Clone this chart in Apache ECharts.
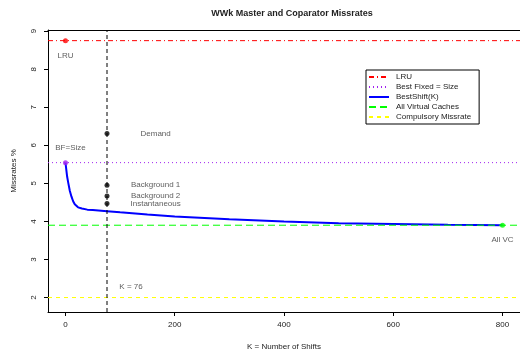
<!DOCTYPE html>
<html>
<head>
<meta charset="utf-8">
<script src="https://cdn.jsdelivr.net/npm/echarts@6/dist/echarts.min.js"></script>
<style>
html,body{margin:0;padding:0;background:#fff}
#chart{width:520px;height:356px}
</style>
</head>
<body>
<div id="chart"></div>
<script>
// BestShift(K) curve
const shiftK = [0, 1, 3, 5, 8, 11, 14, 17, 20, 23, 30, 40, 50, 76, 100, 150, 200, 300, 400, 500, 600, 700, 800]
const shiftRate = [5.545, 5.42, 5.18, 5.02, 4.8, 4.65, 4.53, 4.45, 4.4, 4.37, 4.34, 4.31, 4.3, 4.27, 4.24, 4.18, 4.13, 4.06, 4.0, 3.95, 3.93, 3.91, 3.9]
// reference levels
const lruRate = 8.75
const bestFixedRate = 5.545
const allVcRate = 3.9
const compulsoryRate = 2.0
const bestK = 76
// policies at K = 76
const policyNames = ['Demand', 'Background 1', 'Background 2', 'Instantaneous']
const policyRates = [6.31, 4.95, 4.67, 4.47]
const policyLabelX = 165
const xTicks = [0, 200, 400, 600, 800]
const yTicks = [2, 3, 4, 5, 6, 7, 8, 9]
const xMin = -32, xMax = 832, yMin = 1.62, yMax = 9.03

const font = 'Liberation Sans, Arial, sans-serif'
const chart = echarts.init(document.getElementById('chart'))

const hline = (name, v, color, type, width) => ({
  name: name,
  type: 'line',
  data: [[xMin, v], [xMax, v]],
  symbol: 'none',
  silent: true,
  lineStyle: { color: color, type: type, width: width || 1 },
  itemStyle: { color: color },
  z: 3
})

const dot = (x, y, color, label, pos, offset) => ({
  type: 'scatter',
  data: [[x, y]],
  symbolSize: 5,
  itemStyle: { color: color },
  label: {
    show: true, formatter: label, position: pos, offset: offset || [0, 0],
    color: '#333', fontSize: 8, fontFamily: font
  },
  z: 5
})

const option = {
  animation: false,
  title: {
    text: 'WWk Master and Coparator Missrates',
    left: 287, top: 4, textAlign: 'center',
    textStyle: { fontSize: 9, fontWeight: 'bold', color: '#222', fontFamily: font }
  },
  legend: {
    orient: 'vertical',
    left: 366, top: 70,
    data: ['LRU', 'Best Fixed = Size', 'BestShift(K)', 'All Virtual Caches', 'Compulsory Missrate'],
    borderColor: '#000', borderWidth: 1, borderRadius: 0,
    padding: [3, 8, 3, 2],
    itemWidth: 20, itemHeight: 8, itemGap: 2,
    itemStyle: { opacity: 0, borderWidth: 0 },
    textStyle: { fontSize: 8, color: '#222', fontFamily: font, padding: [0, 0, 0, 2] }
  },
  grid: { left: 48, right: 0, top: 30, bottom: 42 },
  xAxis: [{
    type: 'value', min: xMin, max: xMax,
    name: 'K = Number of Shifts', nameLocation: 'middle', nameGap: 31,
    nameTextStyle: { fontSize: 8, color: '#222', fontFamily: font },
    axisLine: { show: true, onZero: false, lineStyle: { color: '#000' } },
    axisTick: { show: true, length: 4, lineStyle: { color: '#000' }, customValues: xTicks },
    axisLabel: { fontSize: 8, color: '#222', fontFamily: font, margin: 9, customValues: xTicks },
    splitLine: { show: false }
  }, {
    // top frame line only
    type: 'value', min: xMin, max: xMax, position: 'top',
    axisLine: { show: true, onZero: false, lineStyle: { color: '#000' } },
    axisTick: { show: false }, axisLabel: { show: false }, splitLine: { show: false }
  }],
  yAxis: {
    type: 'value', min: yMin, max: yMax,
    name: 'Missrates %', nameLocation: 'middle', nameGap: 30,
    nameTextStyle: { fontSize: 8, color: '#222', fontFamily: font },
    axisLine: { show: true, onZero: false, lineStyle: { color: '#000' } },
    axisTick: { show: true, length: 4, lineStyle: { color: '#000' }, customValues: yTicks },
    axisLabel: { fontSize: 8, color: '#222', fontFamily: font, rotate: 90, margin: 10, customValues: yTicks },
    splitLine: { show: false }
  },
  series: [
    hline('LRU', lruRate, '#ff0000', [5, 3, 1, 3]),
    hline('Best Fixed = Size', bestFixedRate, '#a020f0', [1, 3]),
    {
      name: 'BestShift(K)',
      type: 'line',
      data: shiftK.map((k, i) => [k, shiftRate[i]]),
      symbol: 'none',
      smooth: false,
      lineStyle: { color: '#0000ff', width: 2 },
      itemStyle: { color: '#0000ff' },
      z: 3
    },
    hline('All Virtual Caches', allVcRate, '#00ff00', [7, 4]),
    hline('Compulsory Missrate', compulsoryRate, '#ffff00', [4, 4]),
    // vertical line at best K
    {
      type: 'line',
      data: [[bestK, yMin], [bestK, yMax]],
      symbol: 'none', silent: true,
      lineStyle: { color: '#000', type: [4, 3], width: 1 },
      z: 4
    },
    {
      type: 'scatter',
      data: policyRates.map(v => [bestK, v]),
      symbolSize: 5,
      itemStyle: { color: '#000' },
      z: 5
    },
    {
      type: 'scatter',
      data: policyRates.map((v, i) => [policyLabelX, v, policyNames[i]]),
      symbolSize: 0,
      label: {
        show: true, position: 'inside', formatter: p => p.data[2],
        color: '#333', fontSize: 8, fontFamily: font
      },
      z: 5
    },
    {
      type: 'scatter',
      data: [[120, 2.28, 'K = ' + bestK]],
      symbolSize: 0,
      label: {
        show: true, position: 'inside', formatter: p => p.data[2],
        color: '#333', fontSize: 8, fontFamily: font
      }
    },
    dot(0, lruRate, '#ff0000', 'LRU', 'bottom', [0, 4]),
    dot(0, bestFixedRate, '#a020f0', 'BF=Size', 'top', [5, -3]),
    dot(800, allVcRate, '#00ff00', 'All VC', 'bottom', [0, 3])
  ]
}
chart.setOption(option)
</script>
</body>
</html>
